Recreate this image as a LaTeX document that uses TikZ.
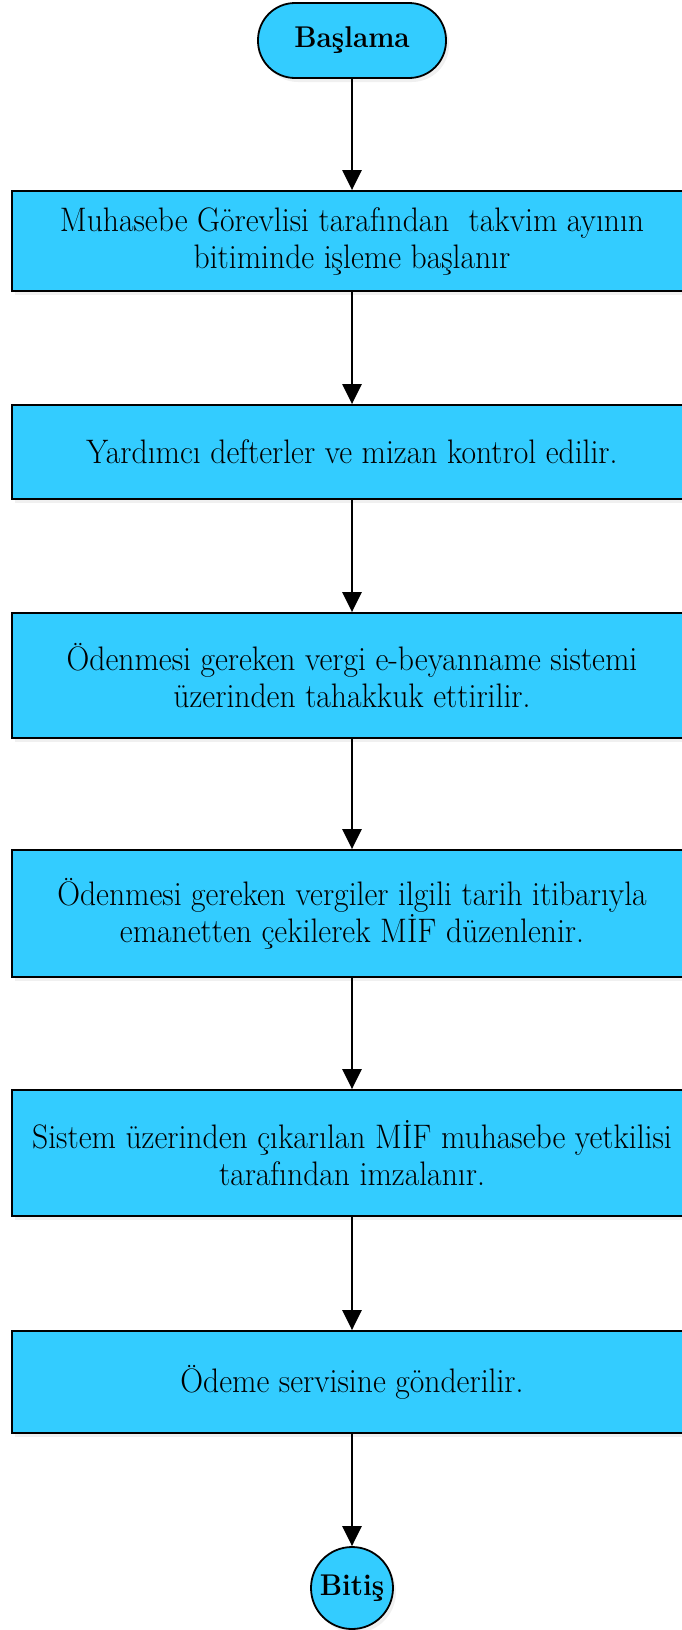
\documentclass[tikz,border=0pt]{standalone}
\usepackage{fontspec}
\setmainfont{Latin Modern Roman}[FakeStretch=0.93]
\usetikzlibrary{arrows.meta,shadows}
\definecolor{boxblue}{RGB}{51,204,255}
\tikzset{
  base/.style={draw=black, line width=1.8pt, fill=boxblue, align=center, inner sep=0pt,
    drop shadow={opacity=0.12, shadow xshift=3pt, shadow yshift=-4pt}},
  procbox/.style={base, rectangle, minimum width=680pt, font=\fontsize{34}{37}\selectfont},
  term/.style={base, rectangle, rounded corners=37pt, minimum width=188pt, minimum height=75pt, font=\fontsize{30}{34}\selectfont\bfseries},
  endc/.style={base, circle, minimum size=82pt, font=\fontsize{30}{34}\selectfont\bfseries},
  arr/.style={line width=2.4pt, -{Triangle[width=19pt,length=20pt]}}
}
\begin{document}
\begin{tikzpicture}[x=1pt,y=-1pt]
\useasboundingbox (0,0) rectangle (681,1630);
\node[term] (start) at (352,40.5) {Başlama};
\node[procbox, minimum height=100pt] (b1) at (352,241) {Muhasebe Görevlisi tarafından\ \ takvim ayının\\bitiminde işleme başlanır};
\node[procbox, minimum height=94pt] (b2) at (352,452) {Yardımcı defterler ve mizan kontrol edilir.};
\node[procbox, minimum height=125pt] (b3) at (352,675.5) {Ödenmesi gereken vergi e-beyanname sistemi\\üzerinden tahakkuk ettirilir.};
\node[procbox, minimum height=127pt] (b4) at (352,913.5) {Ödenmesi gereken vergiler ilgili tarih itibarıyla\\emanetten çekilerek MİF düzenlenir.};
\node[procbox, minimum height=126pt] (b5) at (352,1153) {Sistem üzerinden çıkarılan MİF muhasebe yetkilisi\\tarafından imzalanır.};
\node[procbox, minimum height=102pt] (b6) at (352,1382) {Ödeme servisine gönderilir.};
\node[endc] (end) at (352,1588) {Bitiş};
\draw[arr] (start) -- (b1);
\draw[arr] (b1) -- (b2);
\draw[arr] (b2) -- (b3);
\draw[arr] (b3) -- (b4);
\draw[arr] (b4) -- (b5);
\draw[arr] (b5) -- (b6);
\draw[arr] (b6) -- (end);
\end{tikzpicture}
\end{document}
